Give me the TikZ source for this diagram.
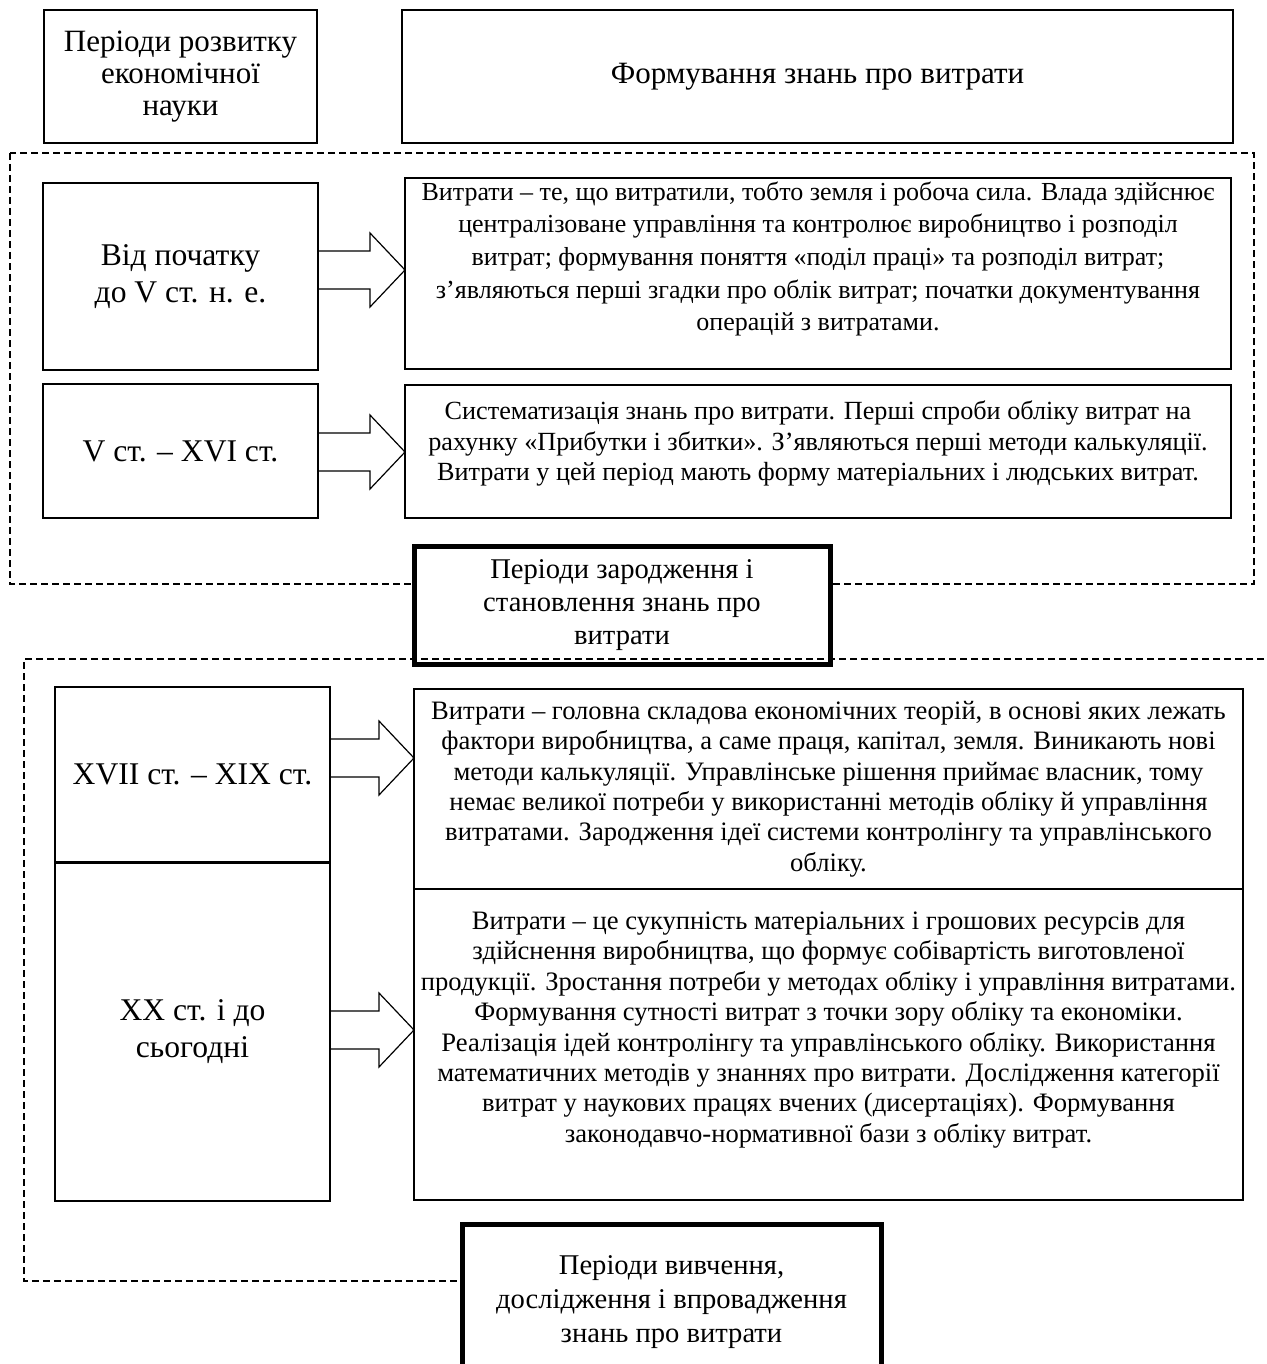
\documentclass[tikz,border=0pt]{standalone}
\usepackage{fontspec}
\setmainfont{Liberation Serif}
\usetikzlibrary{calc}

\tikzset{
  box/.style={draw, line width=0.7pt, outer sep=0pt, inner sep=0pt},
  boldbox/.style={draw, line width=2.5pt, fill=white, outer sep=0pt, inner sep=0pt,
    align=center, font=\fontsize{14.3}{16.3}\selectfont},
  frame/.style={dash pattern=on 3.5pt off 2pt, line width=1pt},
  period/.style={align=center, font=\fontsize{15.8}{18.5}\selectfont},
  head/.style={align=center, font=\fontsize{15.5}{16}\selectfont},
  desc/.style={align=center, font=\fontsize{13.3}{15.2}\selectfont},
  fatarrow/.style={line width=0.6pt, line join=miter},
}
% block arrow from box #1 to box #2, shifted by #3 from the centre of #1
\newcommand{\fatarrow}[3]{%
  \draw[fatarrow] ($(#1.east)+(0,#3-19)$) -- ($(#2.west|-#1.east)+(-35,#3-19)$)
    -- ($(#2.west|-#1.east)+(-35,#3-37)$) -- ($(#2.west|-#1.east)+(0,#3)$)
    -- ($(#2.west|-#1.east)+(-35,#3+37)$) -- ($(#2.west|-#1.east)+(-35,#3+19)$)
    -- ($(#1.east)+(0,#3+19)$);}

\begin{document}
\begin{tikzpicture}[x=0.5pt,y=-0.5pt]
    \useasboundingbox (0,0) rectangle (1266,1364);
    \clip (0,0) rectangle (1266,1364);

    % header
    \node[box, head, minimum width=136.5pt, minimum height=66.5pt] (hdrPeriod) at (180.5,76.5)
        {Періоди розвитку\\економічної\\науки};
    \node[box, head, minimum width=415.5pt, minimum height=66.5pt] (hdrForm) at (817.5,76.5)
        {Формування знань про витрати};

    % first stage
    \draw[frame] (10,153) rectangle (1254,584);
    \node[box, period, minimum width=137.5pt, minimum height=93.5pt] (r1per) at (180.5,276.5)
        {Від початку\\до V ст. н. е.};
    \node[box, minimum width=413pt, minimum height=95.5pt] (r1txt) at (818,273.5) {};
    \node[desc, font=\fontsize{13}{16.3}\selectfont] (r1desc) at (818,259)
        {Витрати – те, що витратили, тобто земля і робоча сила. Влада здійснює\\
         централізоване управління та контролює виробництво і розподіл\\
         витрат; формування поняття «поділ праці» та розподіл витрат;\\
         з’являються перші згадки про облік витрат; початки документування\\
         операцій з витратами.};
    \fatarrow{r1per}{r1txt}{-6.5}

    \node[box, period, minimum width=137.5pt, minimum height=67pt] (r2per) at (180.5,451)
        {V ст. – XVI ст.};
    \node[box, minimum width=413pt, minimum height=66.5pt] (r2txt) at (818,451.5) {};
    \node[desc, font=\fontsize{13.1}{15.2}\selectfont] (r2desc) at (818,443.5)
        {Систематизація знань про витрати. Перші спроби обліку витрат на\\
         рахунку «Прибутки і збитки». З’являються перші методи калькуляції.\\
         Витрати у цей період мають форму матеріальних і людських витрат.};
    \fatarrow{r2per}{r2txt}{1}

    \node[boldbox, minimum width=208pt, minimum height=59pt] (stage1) at (622,605)
        {Періоди зародження і\\становлення знань про\\витрати};

    % second stage
    \draw[frame] (1275,659) -- (24,659) -- (24,1281) -- (480,1281);
    \node[box, period, minimum width=137.5pt, minimum height=87.5pt] (r3per) at (192.5,774.5)
        {XVII ст. – XIX ст.};
    \node[box, minimum width=414.5pt, minimum height=100pt] (r3txt) at (828.5,789) {};
    \node[desc] (r3desc) at (828.5,789)
        {Витрати – головна складова економічних теорій, в основі яких лежать\\
         фактори виробництва, а саме праця, капітал, земля. Виникають нові\\
         методи калькуляції. Управлінське рішення приймає власник, тому\\
         немає великої потреби у використанні методів обліку й управління\\
         витратами. Зародження ідеї системи контролінгу та управлінського\\
         обліку.};
    \fatarrow{r3per}{r3txt}{-16.5}

    \node[box, period, minimum width=137.5pt, minimum height=169pt] (r4per) at (192.5,1032)
        {XX ст. і до\\сьогодні};
    \node[box, minimum width=414.5pt, minimum height=155.5pt] (r4txt) at (828.5,1044.5) {};
    \node[desc] (r4desc) at (828.5,1030)
        {Витрати – це сукупність матеріальних і грошових ресурсів для\\
         здійснення виробництва, що формує собівартість виготовленої\\
         продукції. Зростання потреби у методах обліку і управління витратами.\\
         Формування сутності витрат з точки зору обліку та економіки.\\
         Реалізація ідей контролінгу та управлінського обліку. Використання\\
         математичних методів у знаннях про витрати. Дослідження категорії\\
         витрат у наукових працях вчених (дисертаціях). Формування\\
         законодавчо-нормативної бази з обліку витрат.};
    \fatarrow{r4per}{r4txt}{-2}

    \node[boldbox, font=\fontsize{14.3}{17}\selectfont, minimum width=209.5pt, minimum height=78pt] (stage2) at (671.5,1302)
        {Періоди вивчення,\\дослідження і впровадження\\знань про витрати};
\end{tikzpicture}
\end{document}
